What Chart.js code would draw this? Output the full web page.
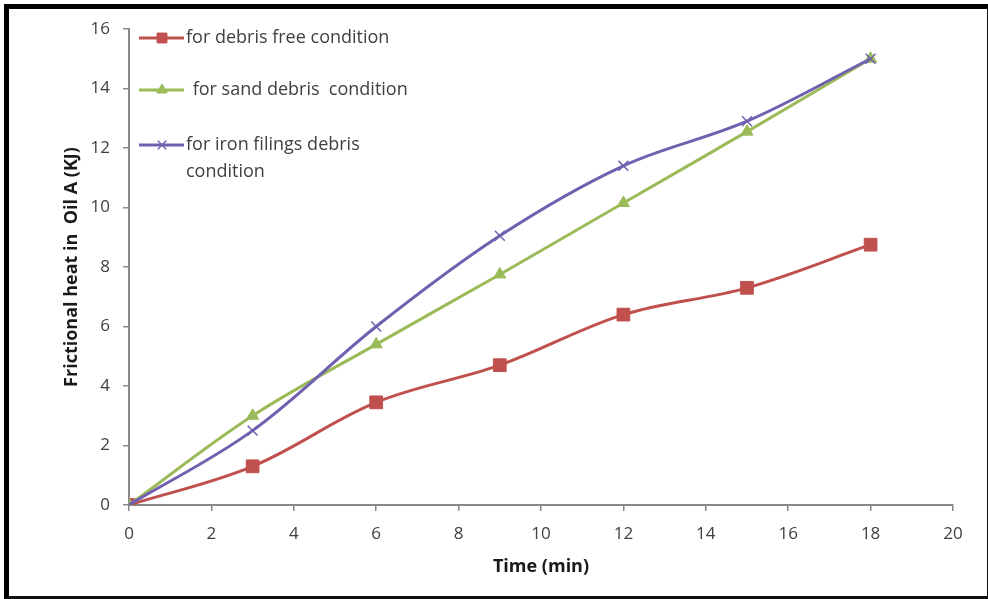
<!DOCTYPE html>
<html>
<head>
<meta charset="utf-8">
<title>Frictional heat in Oil A</title>
<script src="https://cdn.jsdelivr.net/npm/chart.js@4/dist/chart.umd.min.js"></script>
<style>
  html, body { margin: 0; padding: 0; background: #fff; }
  #wrap { position: relative; width: 988px; height: 599px; }
  #frame {
    position: absolute; left: 4px; top: 4px; width: 978px; height: 587px;
    border-left: 5px solid #000; border-top: 5px solid #000;
    border-right: 3px solid #111; border-bottom: 3px solid #111;
    pointer-events: none;
  }
</style>
</head>
<body>
<div id="wrap">
  <canvas id="heatChart" width="988" height="599"></canvas>
  <div id="frame"></div>
</div>
<script>
'use strict';

// ── Data: frictional heat (KJ) vs time (min) ─────────
const times       = [0, 3, 6, 9, 12, 15, 18];
const debrisFree  = [0, 1.3, 3.45, 4.7, 6.4, 7.3, 8.75];
const sandDebris  = [0, 3.0, 5.4, 7.75, 10.15, 12.55, 15.0];
const ironFilings = [0, 2.5, 6.0, 9.05, 11.4, 12.9, 15.0];

const seriesLabels = [
  'for debris free condition',
  ' for sand debris  condition',
  'for iron filings debris\ncondition',
];
const xTicks = [0, 2, 4, 6, 8, 10, 12, 14, 16, 18, 20];
const yTicks = [0, 2, 4, 6, 8, 10, 12, 14, 16];

const FONT = "'Open Sans', 'Liberation Sans', sans-serif";
const AXIS_GREY = '#8a8a8a';

function toPoints(values) {
  return times.map((t, i) => ({ x: t, y: values[i] }));
}

// ── Legend drawn inside the plot, top-left ───────────
const insideLegend = {
  id: 'insideLegend',
  afterDatasetsDraw(chart) {
    const ctx = chart.ctx;
    const rows = [38, 90, 145];
    const textX = [186, 188, 186];
    ctx.save();
    chart.data.datasets.forEach((ds, i) => {
      const y = rows[i];
      ctx.strokeStyle = ds.borderColor;
      ctx.lineWidth = 3;
      ctx.beginPath();
      ctx.moveTo(139, y);
      ctx.lineTo(184, y);
      ctx.stroke();

      ctx.fillStyle = ds.pointBackgroundColor;
      ctx.strokeStyle = ds.pointBorderColor;
      ctx.lineWidth = ds.pointBorderWidth;
      Chart.helpers.drawPoint(ctx, {
        pointStyle: ds.pointStyle,
        radius: ds.legendRadius,
        rotation: 0,
        borderWidth: ds.pointBorderWidth,
      }, 162, y);

      ctx.fillStyle = '#404040';
      ctx.font = '18px ' + FONT;
      ctx.textBaseline = 'middle';
      ctx.textAlign = 'left';
      ds.label.split('\n').forEach((line, k) => {
        ctx.fillText(line, textX[i], y + k * 27);
      });
    });
    ctx.restore();
  },
};

const datasets = [
  {
    label: seriesLabels[0],
    data: toPoints(debrisFree),
    borderColor: '#c0504d',
    pointBackgroundColor: '#c0504d',
    pointBorderColor: '#c0504d',
    pointStyle: 'rect',
    pointRadius: 9,
    legendRadius: 7,
    pointBorderWidth: 1,
    order: 3,
  },
  {
    label: seriesLabels[1],
    data: toPoints(sandDebris),
    borderColor: '#9bbb59',
    pointBackgroundColor: '#9bbb59',
    pointBorderColor: '#9bbb59',
    pointStyle: 'triangle',
    pointRadius: 7,
    legendRadius: 6,
    pointBorderWidth: 1,
    order: 2,
  },
  {
    label: seriesLabels[2],
    data: toPoints(ironFilings),
    borderColor: '#7060b0',
    pointBackgroundColor: '#7060b0',
    pointBorderColor: '#7060b0',
    pointStyle: 'crossRot',
    pointRadius: 7,
    legendRadius: 6,
    pointBorderWidth: 1.5,
    order: 1,
  },
];

new Chart(document.getElementById('heatChart'), {
  type: 'line',
  data: {
    datasets: datasets.map((d) => Object.assign({
      borderWidth: 3,
      tension: 0.35,
      fill: false,
      pointHoverRadius: d.pointRadius,
    }, d)),
  },
  options: {
    responsive: false,
    animation: false,
    events: [],
    layout: { padding: { left: 57, top: 29, right: 35, bottom: 17 } },
    plugins: {
      legend: { display: false },
      tooltip: { enabled: false },
    },
    scales: {
      x: {
        type: 'linear',
        min: 0,
        max: 20,
        afterBuildTicks: (scale) => { scale.ticks = xTicks.map((v) => ({ value: v })); },
        afterFit: (scale) => { scale.height = 77; },
        grid: { drawOnChartArea: false, color: AXIS_GREY, tickLength: 6, lineWidth: 1.5 },
        border: { color: AXIS_GREY, width: 2 },
        ticks: { color: '#404040', font: { family: FONT, size: 17 }, padding: 13, maxRotation: 0 },
        title: {
          display: true,
          text: 'Time (min)',
          color: '#1a1a1a',
          font: { family: FONT, size: 18, weight: 'bold' },
          padding: { top: 4, bottom: 4 },
        },
      },
      y: {
        min: 0,
        max: 16,
        afterBuildTicks: (scale) => { scale.ticks = yTicks.map((v) => ({ value: v })); },
        afterFit: (scale) => { scale.width = 72; },
        grid: { drawOnChartArea: false, color: AXIS_GREY, tickLength: 6, lineWidth: 1.5 },
        border: { color: AXIS_GREY, width: 2 },
        ticks: { color: '#404040', font: { family: FONT, size: 17 }, padding: 13 },
        title: {
          display: true,
          text: 'Frictional heat in  Oil A (KJ)',
          color: '#1a1a1a',
          font: { family: FONT, size: 18, weight: 'bold' },
          padding: { top: 4, bottom: 4 },
        },
      },
    },
  },
  plugins: [insideLegend],
});
</script>
</body>
</html>
